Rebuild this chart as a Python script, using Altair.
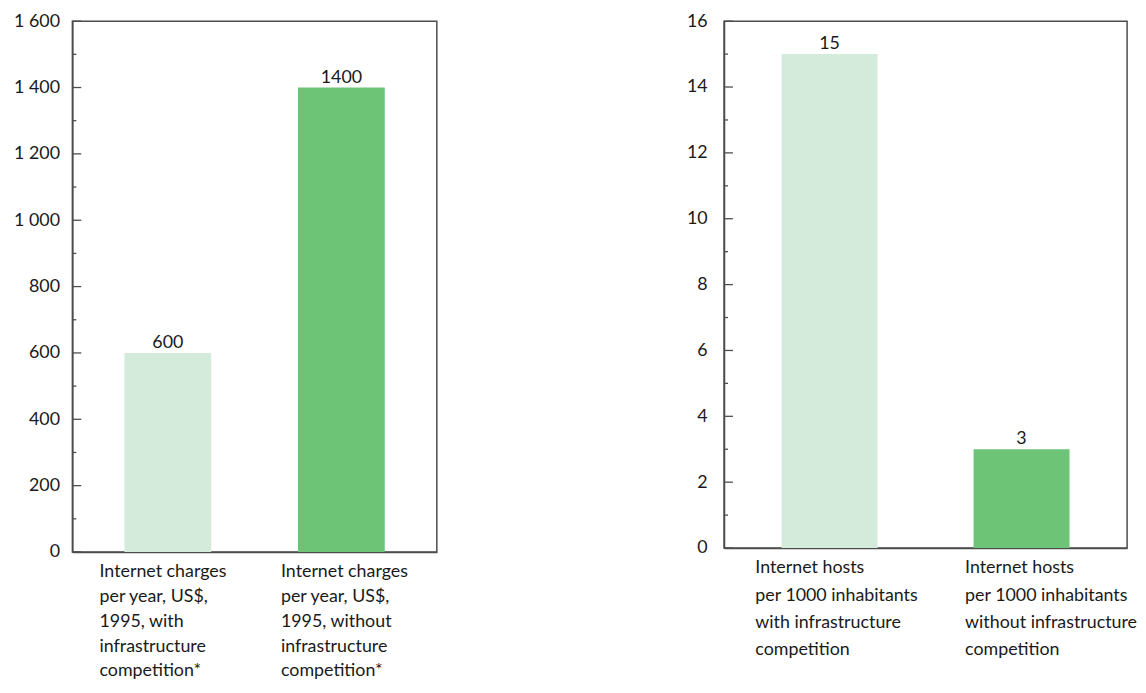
import altair as alt
import pandas as pd

# ---- data ----
left_categories = [
    "Internet charges|per year, US$,|1995, with|infrastructure|competition*",
    "Internet charges|per year, US$,|1995, without|infrastructure|competition*",
]
left_values = [600, 1400]
left_major_ticks = [0, 200, 400, 600, 800, 1000, 1200, 1400, 1600]
left_minor_ticks = [100, 300, 500, 700, 900, 1100, 1300, 1500]

right_categories = [
    "Internet hosts|per 1000 inhabitants|with infrastructure|competition",
    "Internet hosts|per 1000 inhabitants|without infrastructure|competition",
]
right_values = [15, 3]
right_major_ticks = [0, 2, 4, 6, 8, 10, 12, 14, 16]
right_minor_ticks = [1, 3, 5, 7, 9, 11, 13, 15]

LIGHT = "#d4ebdb"
DARK = "#6ec476"
AXIS_COLOR = "#4d4d4d"
TEXT_COLOR = "#1a1a1a"
FONT = "Lato"
FS = 18


def panel(categories, values, major, minor, ymax, width, height,
          off_first, off_second, line_height, ylabel_pad, yfmt):
    bars_df = pd.DataFrame({"cat": categories, "val": values})
    major_df = pd.DataFrame({"v": major})
    minor_df = pd.DataFrame({"v": minor})

    yscale = alt.Scale(domain=[0, ymax], nice=False, zero=True)
    xscale = alt.Scale(domain=categories, paddingInner=0.5, paddingOuter=0.3)

    x = alt.X(
        "cat:N",
        scale=xscale,
        sort=categories,
        axis=alt.Axis(
            title=None,
            ticks=False,
            domain=True,
            domainColor=AXIS_COLOR,
            domainWidth=1.5,
            labelAngle=0,
            labelAlign="left",
            labelBaseline="top",
            labelPadding=11,
            labelLineHeight=line_height,
            labelFont=FONT,
            labelFontSize=FS,
            labelColor=TEXT_COLOR,
            labelLimit=0,
            labelOverlap=False,
            labelExpr="split(datum.label, '|')",
            labelOffset=alt.condition("datum.index < 0.5",
                                      alt.value(off_first), alt.value(off_second)),
        ),
    )
    y = alt.Y(
        "val:Q",
        scale=yscale,
        axis=alt.Axis(
            title=None,
            values=major,
            ticks=False,
            domain=True,
            domainColor=AXIS_COLOR,
            domainWidth=1.5,
            grid=False,
            labelPadding=ylabel_pad,
            labelFont=FONT,
            labelFontSize=FS,
            labelColor=TEXT_COLOR,
            labelExpr=yfmt,
        ),
    )

    bars = alt.Chart(bars_df).mark_bar().encode(
        x=x,
        y=y,
        color=alt.Color("cat:N", scale=alt.Scale(domain=categories, range=[LIGHT, DARK]), legend=None),
    )
    text = alt.Chart(bars_df).mark_text(
        dy=-5, baseline="alphabetic", font=FONT, fontSize=FS, color=TEXT_COLOR
    ).encode(x=alt.X("cat:N", scale=xscale, sort=categories), y=alt.Y("val:Q", scale=yscale), text="val:Q")

    major_rules = alt.Chart(major_df).mark_rule(color=AXIS_COLOR, strokeWidth=1.3).encode(
        y=alt.Y("v:Q", scale=yscale), x=alt.value(0), x2=alt.value(9)
    )
    minor_rules = alt.Chart(minor_df).mark_rule(color=AXIS_COLOR, strokeWidth=1.3).encode(
        y=alt.Y("v:Q", scale=yscale), x=alt.value(0), x2=alt.value(4)
    )
    return alt.layer(bars, text, major_rules, minor_rules).properties(width=width, height=height)


left = panel(left_categories, left_values, left_major_ticks, left_minor_ticks, 1600,
             368, 536, -69, -61, 25, 13,
             "replace(format(datum.value, ','), ',', ' ')")
right = panel(right_categories, right_values, right_major_ticks, right_minor_ticks, 16,
              407, 532, -75, -57, 27.5, 17, "format(datum.value, 'd')")

chart = alt.hconcat(left, right, spacing=250).properties(
    padding={"top": 0, "left": 4, "right": 0, "bottom": 0},
    background="white",
).configure_view(stroke=AXIS_COLOR, strokeWidth=1.5)

chart.save("out.html", embed_options={"renderer": "svg", "actions": False})
